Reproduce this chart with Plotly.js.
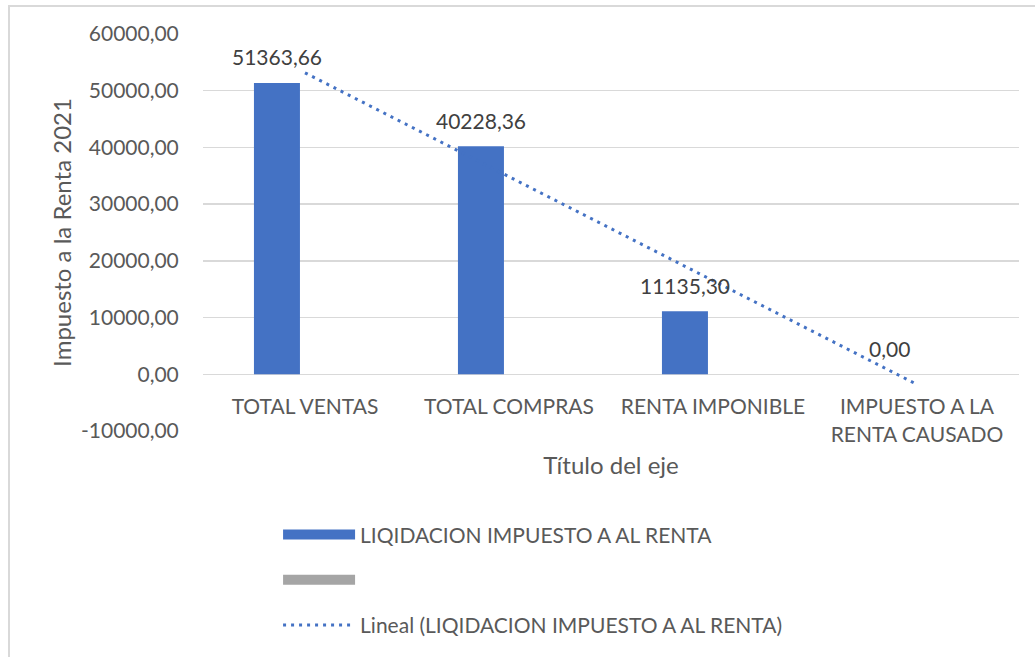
<!DOCTYPE html>
<html>
<head>
<meta charset="utf-8">
<script src="https://cdn.plot.ly/plotly-3.0.1.min.js"></script>
<style>
  html, body { margin: 0; padding: 0; background: #ffffff; }
  #wrap { position: relative; width: 1035px; height: 657px; overflow: hidden; }
  #chart { position: absolute; left: 0; top: 0; width: 1035px; height: 657px; }
  #frame { position: absolute; left: 8px; top: 5px; width: 1100px; height: 700px;
           border-left: 2px solid #d9d9d9; border-top: 2px solid #d9d9d9; pointer-events: none; }
</style>
</head>
<body>
<div id="wrap">
  <div id="chart"></div>
  <div id="frame"></div>
</div>
<script>
// ---- data ----
const categories = ["TOTAL VENTAS", "TOTAL COMPRAS", "RENTA IMPONIBLE", "IMPUESTO A LA<br>RENTA CAUSADO"];
const values = [51363.66, 40228.36, 11135.30, 0.00];
const emptySeries = [null, null, null, null];
const seriesName = "LIQIDACION IMPUESTO A AL RENTA";
const emptySeriesName = "";
const trendName = "Lineal (LIQIDACION IMPUESTO A AL RENTA)";
const yTickVals = [-10000, 0, 10000, 20000, 30000, 40000, 50000, 60000];
const yTickText = ["-10000,00", "0,00", "10000,00", "20000,00", "30000,00", "40000,00", "50000,00", "60000,00"];
const yTitle = "Impuesto a la Renta 2021";
const xTitle = "Título del eje";

// linear trendline (least squares over category index 1..n), as Excel draws it
const n = values.length;
const xs = values.map((_, i) => i + 1);
const mx = xs.reduce((a, b) => a + b, 0) / n;
const my = values.reduce((a, b) => a + b, 0) / n;
let sxy = 0, sxx = 0;
for (let i = 0; i < n; i++) { sxy += (xs[i] - mx) * (values[i] - my); sxx += (xs[i] - mx) ** 2; }
const slope = sxy / sxx;
const intercept = my - slope * mx;
const trendY = xs.map(x => intercept + slope * x);

const fmt = v => v.toFixed(2).replace('.', ',');

const FONT = "Lato, 'Open Sans', sans-serif";
const GREY = "#595959";
const BLUE = "#4472C4";
const GRAYBAR = "#A5A5A5";

const traces = [
  {
    type: "bar", x: categories, y: values, name: seriesName,
    marker: { color: BLUE }, showlegend: false, legendgroup: "a"
  },
  {
    type: "bar", x: categories, y: emptySeries, name: emptySeriesName,
    marker: { color: GRAYBAR }, showlegend: false, legendgroup: "b"
  },
  // legend swatches (wide rectangles as in the original legend)
  {
    type: "scatter", mode: "lines", x: categories, y: emptySeries, name: seriesName,
    line: { color: BLUE, width: 13 }, legendgroup: "a", showlegend: true, hoverinfo: "skip"
  },
  {
    type: "scatter", mode: "lines", x: categories, y: emptySeries, name: emptySeriesName,
    line: { color: GRAYBAR, width: 13 }, legendgroup: "b", showlegend: true, hoverinfo: "skip"
  },
  {
    type: "scatter", mode: "lines", x: categories, y: trendY, name: trendName,
    line: { color: BLUE, width: 3, dash: "3px,5px" }, legendgroup: "c"
  }
];

const annotations = values.map((v, i) => ({
  x: categories[i], y: v, xref: "x", yref: "y",
  text: fmt(v), showarrow: false, xshift: -28, yshift: 26,
  font: { family: FONT, size: 21, color: "#404040" }
}));

const layout = {
  width: 1035, height: 657,
  margin: { l: 203, r: 16, t: 34, b: 224 },
  paper_bgcolor: "#ffffff", plot_bgcolor: "#ffffff",
  font: { family: FONT, size: 21, color: GREY },
  barmode: "group", bargap: 0.45, bargroupgap: 0.18,
  showlegend: true,
  legend: {
    x: 0.092, y: -0.21, xanchor: "left", yanchor: "top",
    orientation: "v", traceorder: "grouped", tracegroupgap: 15,
    itemwidth: 72, font: { family: FONT, size: 21, color: GREY }
  },
  xaxis: {
    type: "category", anchor: "free", position: 1 / 7,
    showgrid: false, showline: false, zeroline: false,
    ticks: "outside", ticklen: 14, tickcolor: "rgba(0,0,0,0)",
    tickfont: { family: FONT, size: 21, color: GREY },
    title: { text: xTitle, font: { family: FONT, size: 24, color: GREY }, standoff: 12 }
  },
  yaxis: {
    range: [-10000, 60000], tickvals: yTickVals, ticktext: yTickText,
    showgrid: true, gridcolor: "#d9d9d9", gridwidth: 1.5,
    zeroline: true, zerolinecolor: "#d9d9d9", zerolinewidth: 1.5,
    showline: false,
    ticks: "outside", ticklen: 19, tickcolor: "rgba(0,0,0,0)",
    tickfont: { family: FONT, size: 21, color: GREY },
    title: { text: yTitle, font: { family: FONT, size: 24, color: GREY }, standoff: 2 }
  },
  annotations: annotations
};

Plotly.newPlot("chart", traces, layout, { displayModeBar: false, staticPlot: true });
</script>
</body>
</html>
